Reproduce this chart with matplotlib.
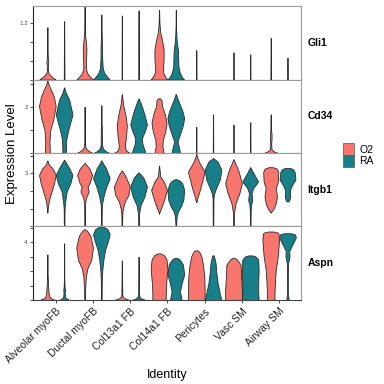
import numpy as np
import matplotlib
matplotlib.use("Agg")
import matplotlib.pyplot as plt
from matplotlib.patches import Patch

plt.rcParams['font.family'] = ['Liberation Sans', 'DejaVu Sans']

identities = ['Alveolar myoFB', 'Ductal myoFB', 'Col13a1 FB', 'Col14a1 FB',
              'Pericytes', 'Vasc SM', 'Airway SM']
groups = ['O2', 'RA']
colors = {'O2': '#F8766D', 'RA': '#167F87'}
genes = ['Gli1', 'Cd34', 'Itgb1', 'Aspn']

# violin outlines: [expression, relative half width]
# order per gene: (identity 1 O2, identity 1 RA, identity 2 O2, ...)
gli1 = [
    [[0, 1.0], [0.05, 0.6], [0.1, 0.3], [0.16, 0.08], [0.25, 0.05], [0.32, 0.08], [0.38, 0.12], [0.45, 0.06], [0.6, 0.03], [1.12, 0.01]],
    [[0, 0.04], [1.25, 0.01]],
    [[0, 1.0], [0.06, 0.65], [0.14, 0.3], [0.25, 0.15], [0.45, 0.18], [0.65, 0.22], [0.8, 0.16], [0.95, 0.06], [1.2, 0.02], [1.56, 0.01]],
    [[0, 1.0], [0.06, 0.7], [0.14, 0.35], [0.25, 0.16], [0.45, 0.1], [0.7, 0.09], [0.9, 0.05], [1.1, 0.02], [1.39, 0.01]],
    [[0, 0.03], [1.37, 0.01]],
    [[0, 0.03], [1.48, 0.01]],
    [[0, 1.0], [0.06, 0.75], [0.14, 0.5], [0.25, 0.48], [0.45, 0.55], [0.65, 0.55], [0.85, 0.35], [1.0, 0.15], [1.2, 0.05], [1.49, 0.01]],
    [[0, 1.0], [0.06, 0.7], [0.16, 0.45], [0.3, 0.3], [0.5, 0.28], [0.65, 0.24], [0.8, 0.12], [1.0, 0.05], [1.2, 0.02], [1.49, 0.01]],
    [[0, 0.03], [0.63, 0.01]],
    [],
    [[0, 0.03], [0.58, 0.01]],
    [[0, 0.03], [0.54, 0.01]],
    [[0, 0.04], [0.89, 0.01]],
    [[0, 0.03], [0.47, 0.01]],
]
cd34 = [
    [[0, 0.3], [0.5, 0.25], [1.0, 0.35], [1.45, 0.7], [2.03, 1.0], [2.46, 0.75], [2.75, 0.4], [2.95, 0.15], [3.12, 0.02]],
    [[0, 0.2], [0.58, 0.25], [1.0, 0.5], [1.67, 1.0], [2.3, 0.6], [2.6, 0.2], [2.83, 0.02]],
    [[0, 1.0], [0.08, 0.5], [0.2, 0.15], [0.35, 0.04], [2.0, 0.01]],
    [[0, 1.0], [0.08, 0.5], [0.2, 0.18], [0.35, 0.08], [1.1, 0.06], [1.3, 0.02], [2.06, 0.01]],
    [[0, 1.0], [0.1, 0.5], [0.3, 0.35], [0.7, 0.5], [1.2, 0.6], [1.6, 0.45], [2.1, 0.15], [2.54, 0.01]],
    [[0, 0.8], [0.15, 0.7], [0.4, 0.45], [0.65, 0.4], [0.9, 0.7], [1.23, 1.0], [1.6, 0.75], [1.9, 0.5], [2.2, 0.2], [2.35, 0.02]],
    [[0, 0.55], [0.29, 0.4], [0.58, 0.45], [0.94, 0.75], [1.3, 0.9], [1.67, 0.7], [2.03, 0.35], [2.3, 0.3], [2.36, 0.05]],
    [[0, 0.5], [0.2, 0.4], [0.5, 0.2], [0.87, 0.55], [1.2, 0.85], [1.52, 1.0], [1.8, 0.8], [2.03, 0.55], [2.3, 0.25], [2.54, 0.02]],
    [[0, 0.08], [0.04, 0.02], [1.13, 0.01]],
    [[0, 0.03], [1.67, 0.01]],
    [[0, 0.03], [1.23, 0.01]],
    [[0, 0.03], [1.33, 0.01]],
    [[0, 0.9], [0.06, 0.4], [0.15, 0.1], [0.4, 0.05], [0.6, 0.1], [0.8, 0.1], [1.0, 0.04], [1.6, 0.03], [1.67, 0.01]],
    [],
]
itgb1 = [
    [[0.79, 0.0], [1.04, 0.05], [1.5, 0.2], [1.98, 0.5], [2.45, 0.8], [2.92, 1.0], [3.3, 0.6], [3.48, 0.2], [3.73, 0.01]],
    [[0, 0.03], [1.0, 0.05], [1.32, 0.1], [1.98, 0.3], [2.45, 0.75], [2.92, 1.0], [3.39, 0.5], [3.58, 0.25], [3.77, 0.01]],
    [[0, 0.03], [1.2, 0.05], [1.6, 0.15], [1.98, 0.5], [2.26, 0.35], [2.45, 0.6], [2.92, 0.9], [3.3, 0.55], [3.58, 0.01]],
    [[0, 0.03], [1.0, 0.05], [1.32, 0.1], [1.79, 0.3], [2.26, 0.6], [2.73, 1.0], [3.3, 0.55], [3.48, 0.3], [3.73, 0.01]],
    [[0, 0.03], [0.6, 0.05], [0.94, 0.1], [1.41, 0.35], [1.79, 0.8], [2.26, 0.95], [2.82, 0.45], [3.0, 0.25], [3.16, 0.01]],
    [[0, 0.03], [0.6, 0.05], [0.85, 0.1], [1.22, 0.25], [1.69, 0.7], [2.26, 1.0], [2.73, 0.6], [2.92, 0.3], [3.05, 0.01]],
    [[0.72, 0.0], [0.8, 0.05], [1.04, 0.25], [1.5, 0.6], [2.07, 0.95], [2.54, 0.55], [2.82, 0.15], [3.43, 0.01]],
    [[0, 0.03], [0.56, 0.1], [0.85, 0.25], [1.13, 0.6], [1.5, 0.9], [2.07, 1.0], [2.45, 0.75], [2.6, 0.45], [2.67, 0.05]],
    [[1.37, 0.0], [1.45, 0.05], [1.79, 0.25], [2.17, 0.5], [2.64, 0.75], [3.1, 1.0], [3.58, 0.4], [3.86, 0.15], [4.1, 0.01]],
    [[0, 0.03], [1.6, 0.05], [1.88, 0.15], [2.26, 0.45], [2.64, 0.8], [3.2, 1.0], [3.67, 0.55], [3.86, 0.01]],
    [[0, 0.03], [0.75, 0.05], [1.32, 0.25], [1.88, 0.7], [2.45, 1.0], [3.2, 0.55], [3.58, 0.2], [3.8, 0.01]],
    [[0, 0.03], [0.9, 0.05], [1.22, 0.1], [1.5, 0.25], [1.88, 0.15], [2.17, 0.35], [2.54, 0.95], [3.0, 0.4], [3.35, 0.01]],
    [[0.79, 0.0], [0.85, 0.1], [0.94, 0.25], [1.22, 0.55], [1.69, 0.75], [2.17, 0.6], [2.54, 0.85], [3.1, 0.9], [3.3, 0.7], [3.35, 0.1]],
    [[1.41, 0.0], [1.43, 0.2], [1.69, 0.3], [2.07, 0.3], [2.35, 0.55], [2.64, 0.95], [3.1, 0.85], [3.28, 0.6], [3.3, 0.1]],
]
aspn = [
    [[0, 1.0], [0.06, 0.6], [0.18, 0.25], [0.47, 0.15], [1.0, 0.08], [1.5, 0.05], [2.0, 0.02], [3.16, 0.01]],
    [[0, 0.7], [0.06, 0.35], [0.18, 0.12], [0.5, 0.07], [0.7, 0.1], [0.9, 0.05], [1.5, 0.02], [3.93, 0.01]],
    [[0, 0.03], [0.82, 0.08], [1.64, 0.15], [2.22, 0.35], [2.8, 0.8], [3.63, 1.0], [4.44, 0.7], [4.8, 0.3], [4.91, 0.02]],
    [[0, 0.03], [1.2, 0.05], [2.1, 0.12], [2.8, 0.25], [3.5, 0.45], [4.1, 0.8], [4.56, 1.0], [4.95, 0.7], [5.08, 0.2]],
    [[0, 1.0], [0.07, 0.45], [0.2, 0.12], [0.4, 0.05], [2.74, 0.01]],
    [[0, 0.9], [0.07, 0.4], [0.2, 0.12], [0.4, 0.05], [3.0, 0.01]],
    [[0, 0.8], [0.47, 0.8], [1.17, 0.85], [2.1, 1.0], [2.8, 0.9], [3.15, 0.55], [3.23, 0.05]],
    [[0, 0.7], [0.58, 0.5], [1.17, 0.7], [1.75, 1.0], [2.46, 0.85], [2.85, 0.4], [2.92, 0.05]],
    [[0, 1.0], [0.7, 1.0], [1.64, 0.95], [2.46, 0.8], [3.04, 0.6], [3.4, 0.3], [3.44, 0.05]],
    [[0, 1.0], [0.47, 0.8], [1.17, 0.55], [1.87, 0.4], [2.57, 0.3], [3.09, 0.1]],
    [[0, 1.0], [0.7, 1.0], [1.64, 0.9], [2.46, 0.85], [2.85, 0.35], [2.92, 0.05]],
    [[0, 1.0], [0.47, 0.95], [1.17, 0.95], [2.1, 1.0], [2.8, 0.95], [3.05, 0.6], [3.09, 0.1]],
    [[0, 0.45], [0.47, 0.45], [1.17, 0.5], [2.1, 0.6], [3.04, 0.85], [4.2, 1.0], [4.7, 0.9], [4.75, 0.1]],
    [[0, 0.15], [0.2, 0.1], [0.5, 0.03], [1.64, 0.03], [2.57, 0.08], [3.04, 0.25], [3.39, 0.2], [3.86, 0.6], [4.33, 1.0], [4.6, 0.9], [4.63, 0.1]],
]
profiles = [gli1, cd34, itgb1, aspn]

y_tops = [1.57, 3.17, 4.15, 5.1]
y_ticks = [[0, 0.4, 0.8, 1.2], [0, 1, 2, 3], [0, 1, 2, 3, 4], [0, 1, 2, 3, 4, 5]]
y_labeled = ['1.2', '2', '3', '4']


def draw_violin(ax, center, prof, color, ytop):
    pts = np.array(prof, dtype=float)
    yy = np.linspace(pts[0, 0], pts[-1, 0], 300)
    ww = np.interp(yy, pts[:, 0], pts[:, 1])
    # light smoothing of the outline
    dy = yy[1] - yy[0]
    sig = max(0.008 * ytop / dy, 0.5)
    k = np.arange(-int(3 * sig) - 1, int(3 * sig) + 2)
    ker = np.exp(-0.5 * (k / sig) ** 2)
    ker /= ker.sum()
    pad = len(k) // 2
    ww = np.convolve(np.pad(ww, pad, mode='edge'), ker, mode='same')[pad:-pad]
    hw = ww * 0.225
    ax.fill_betweenx(yy, center - hw, center + hw, facecolor=color,
                     edgecolor='#2b2b2b', linewidth=0.6)


fig, axes = plt.subplots(4, 1, figsize=(3.84, 3.84), dpi=100, sharex=True)
fig.subplots_adjust(left=0.087, right=0.785, top=0.984, bottom=0.219, hspace=0)

for gi, ax in enumerate(axes):
    for ci in range(len(identities)):
        for k, g in enumerate(groups):
            prof = profiles[gi][ci * 2 + k]
            if len(prof) == 0:
                continue
            xc = ci + 1 + (-0.225 if k == 0 else 0.225)
            draw_violin(ax, xc, prof, colors[g], y_tops[gi])
    ax.set_ylim(0, y_tops[gi])
    ax.set_xlim(0.4, len(identities) + 0.6)
    ax.set_yticks(y_ticks[gi])
    ax.set_yticklabels([y_labeled[gi] if f'{t:g}' == y_labeled[gi] else '' for t in y_ticks[gi]])
    ax.tick_params(axis='y', length=2.5, width=0.6, color='#333333', labelsize=4.5,
                   labelcolor='#4d4d4d', pad=1.5)
    ax.tick_params(axis='x', length=0)
    ax.spines['left'].set_color('#222222')
    ax.spines['bottom'].set_color('#444444')
    ax.spines['top'].set_color('#9a9a9a')
    ax.spines['right'].set_color('#9a9a9a')
    for s in ax.spines.values():
        s.set_linewidth(0.8)
    ax.text(1.022, 0.5, genes[gi], transform=ax.transAxes, ha='left', va='center',
            fontsize=7.5, fontweight='bold')

axes[-1].set_xticks(range(1, len(identities) + 1))
axes[-1].set_xticklabels(identities, rotation=45, ha='right', rotation_mode='anchor',
                         fontsize=7.5, color='#222222')
axes[-1].tick_params(axis='x', length=2.5, width=0.6, color='#333333', pad=2)
axes[-1].set_xlabel('Identity', fontsize=9, labelpad=3)
fig.text(0.032, 0.6, 'Expression Level', rotation=90, ha='center', va='center', fontsize=9.5)

handles = [Patch(facecolor=colors[g], edgecolor='#555555', linewidth=0.5) for g in groups]
fig.legend(handles, groups, loc='upper left', bbox_to_anchor=(0.893, 0.627),
           frameon=False, fontsize=7.5, handlelength=1.05, handleheight=1.35,
           labelspacing=0.0, handletextpad=0.5, borderaxespad=0, borderpad=0)

fig.savefig('out.png', dpi=100)
